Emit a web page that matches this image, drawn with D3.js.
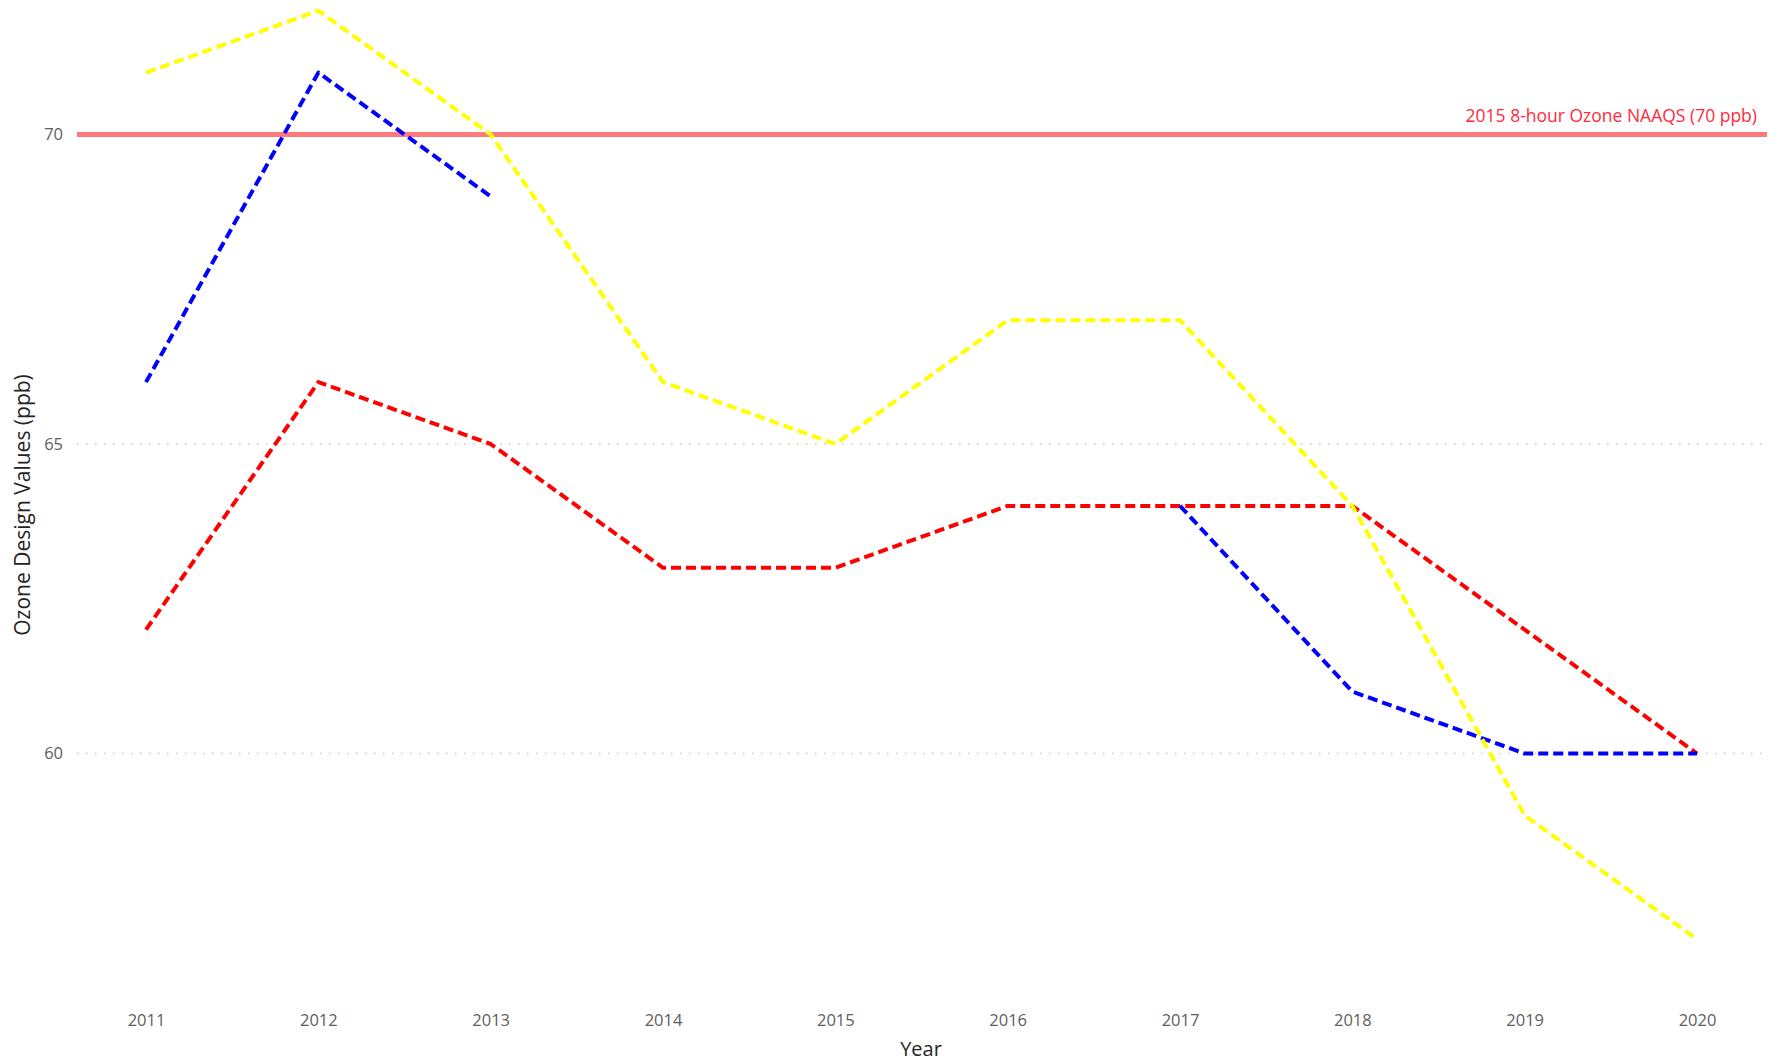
<!DOCTYPE html>
<html><head><meta charset="utf-8">
<script src="https://cdn.jsdelivr.net/npm/d3@7"></script>
<style>
html,body{margin:0;padding:0;background:#fff;}
svg text{font-family:"Segoe UI","Open Sans","Noto Sans",sans-serif;}
</style></head>
<body><svg id="c" width="1777" height="1061"></svg>
<script>
const years = [2011,2012,2013,2014,2015,2016,2017,2018,2019,2020];
const yellowSeries = [71,72,70,66,65,67,67,64,59,57];
const blueSeries = [66,71,69,null,null,null,64,61,60,60];
const redSeries = [62,66,65,63,63,64,64,64,62,60];
const yTicks = [60,65,70];
const refValue = 70;
const refLabel = "2015 8-hour Ozone NAAQS (70 ppb)";

const svg = d3.select("#c");
const x = d3.scalePoint().domain(years).range([146,1697]);
const y = d3.scaleLinear().domain([60,70]).range([753.5,134.5]);
const left = 77, right = 1767;

// grid
svg.append("g").selectAll("line").data(yTicks.filter(t=>t!==refValue)).join("line")
  .attr("x1",left).attr("x2",right).attr("y1",d=>y(d)).attr("y2",d=>y(d))
  .attr("stroke","#c8c8c8").attr("stroke-width",1.5).attr("stroke-dasharray","1.5,7.5");

// y axis labels
const yAxis = d3.axisLeft(y).tickValues(yTicks).tickSize(0).tickPadding(0);
const gy = svg.append("g").attr("transform","translate(63,0)").call(yAxis);
gy.select(".domain").remove();
gy.selectAll("text").attr("fill","#605E5C").style("font-size","16.5px");

// x axis labels
const xAxis = d3.axisBottom(x).tickSize(0).tickPadding(0).tickFormat(d=>String(d));
const gx = svg.append("g").attr("transform","translate(0,1014)").call(xAxis);
gx.select(".domain").remove();
gx.selectAll("text").attr("fill","#605E5C").style("font-size","16.5px");

// axis titles
svg.append("text").attr("x",921).attr("y",1056).attr("text-anchor","middle")
  .attr("fill","#252423").style("font-size","20px").text("Year");
svg.append("text").attr("transform","translate(30,505) rotate(-90)").attr("text-anchor","middle")
  .attr("fill","#252423").style("font-size","21px").text("Ozone Design Values (ppb)");

// reference line
svg.append("line").attr("x1",left).attr("x2",right).attr("y1",y(refValue)).attr("y2",y(refValue))
  .attr("stroke","#FF7A7A").attr("stroke-width",5);
svg.append("text").attr("x",1757).attr("y",y(refValue)-13).attr("text-anchor","end")
  .attr("fill","#FF2A3C").style("font-size","17.5px").text(refLabel);

// series
const line = d3.line().defined(d=>d[1]!=null).x(d=>x(d[0])).y(d=>y(d[1]));
const series = [
  {vals: redSeries, color:"#FF0000"},
  {vals: blueSeries, color:"#0000FF"},
  {vals: yellowSeries, color:"#FFFF00"}
];
series.forEach(s=>{
  svg.append("path").datum(years.map((yr,i)=>[yr,s.vals[i]]))
    .attr("d",line).attr("fill","none").attr("stroke",s.color)
    .attr("stroke-width",4).attr("stroke-dasharray","10,5").attr("stroke-linejoin","round");
});
</script></body></html>
